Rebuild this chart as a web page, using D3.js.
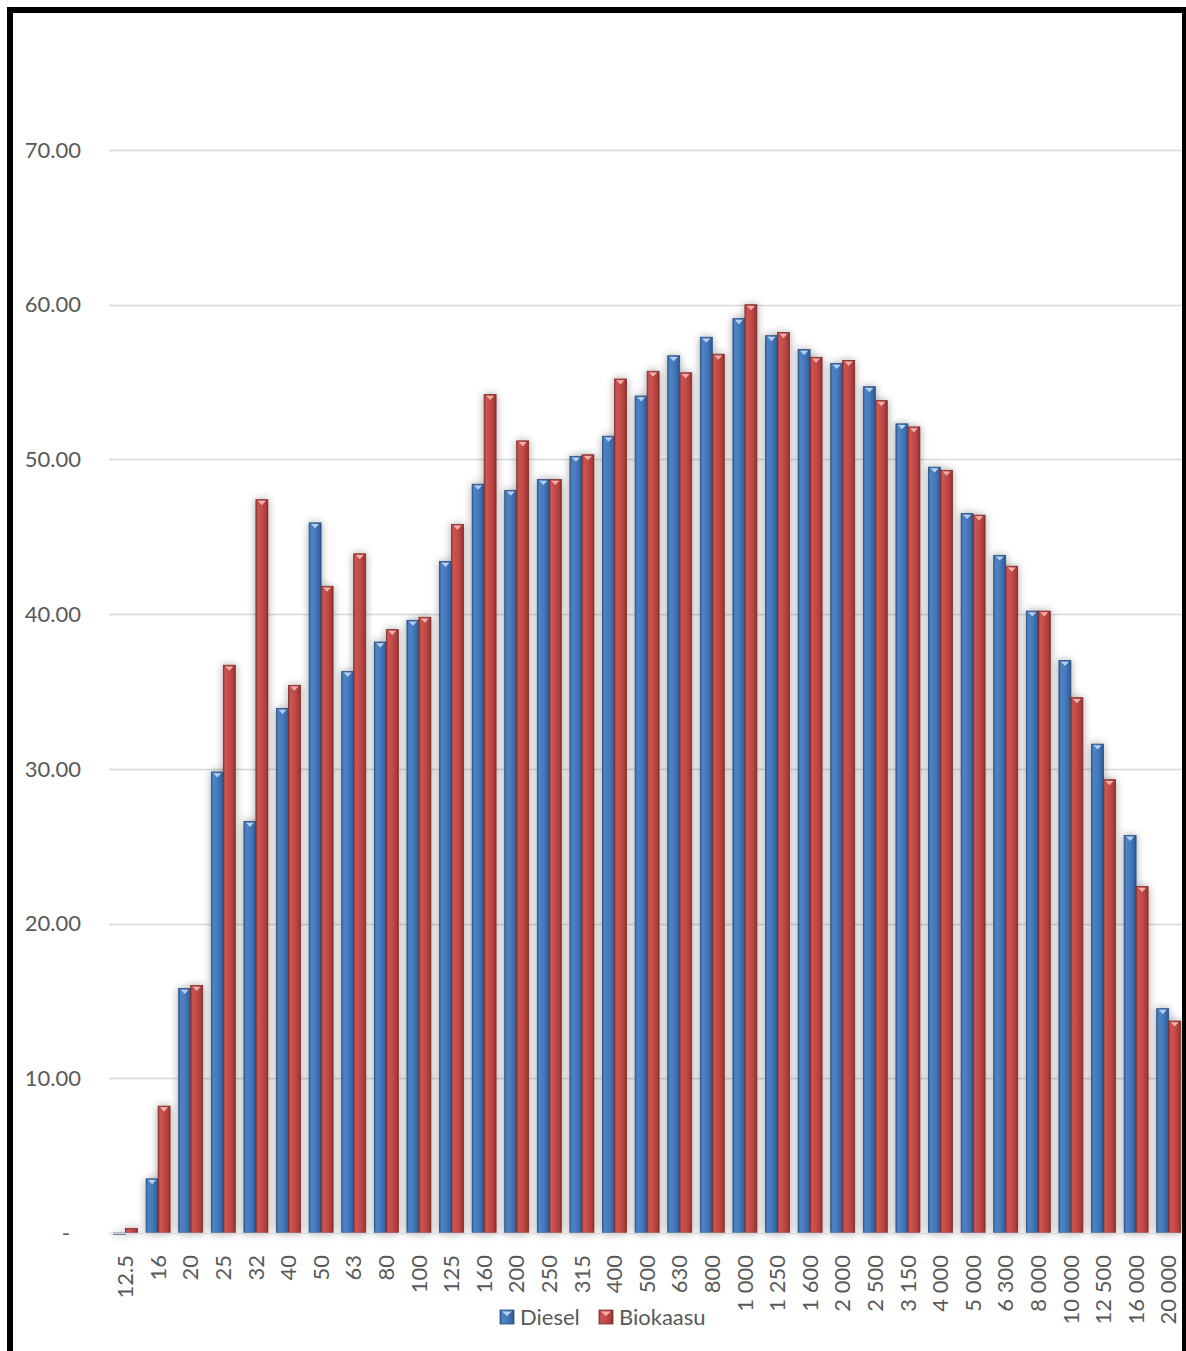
<!DOCTYPE html>
<html>
<head>
<meta charset="utf-8">
<script src="https://cdn.jsdelivr.net/npm/d3@7"></script>
<style>
  html, body { margin: 0; padding: 0; background: #fff; }
  svg { display: block; }
  text { font-family: Lato, "Open Sans", "Noto Sans", sans-serif; fill: #595959; }
</style>
</head>
<body>
<script>
// Third-octave band centre frequencies (Hz)
const categories = ["12.5", "16", "20", "25", "32", "40", "50", "63", "80", "100",
  "125", "160", "200", "250", "315", "400", "500", "630", "800", "1 000",
  "1 250", "1 600", "2 000", "2 500", "3 150", "4 000", "5 000", "6 300", "8 000",
  "10 000", "12 500", "16 000", "20 000"];

const seriesNames = ["Diesel", "Biokaasu"];

const dieselValues = [-0.1, 3.5, 15.8, 29.8, 26.6, 33.9, 45.9, 36.3, 38.2, 39.6,
  43.4, 48.4, 48.0, 48.7, 50.2, 51.5, 54.1, 56.7, 57.9, 59.1,
  58.0, 57.1, 56.2, 54.7, 52.3, 49.5, 46.5, 43.8, 40.2,
  37.0, 31.6, 25.7, 14.5];

const biokaasuValues = [0.3, 8.2, 16.0, 36.7, 47.4, 35.4, 41.8, 43.9, 39.0, 39.8,
  45.8, 54.2, 51.2, 48.7, 50.3, 55.2, 55.7, 55.6, 56.8, 60.0,
  58.2, 56.6, 56.4, 53.8, 52.1, 49.3, 46.4, 43.1, 40.2,
  34.6, 29.3, 22.4, 13.7];

const yTicks = [0, 10, 20, 30, 40, 50, 60, 70];

const W = 1186, H = 1351;
const svg = d3.select("body").append("svg").attr("width", W).attr("height", H);

const defs = svg.append("defs");

// Cylinder-like shading for each series
const palettes = {
  Diesel:   { stops: ["#33619c", "#4d84c6", "#4479bb", "#3566a5", "#2a5288"], tip: "#b8cff0", edge: "#2a4f80" },
  Biokaasu: { stops: ["#a13c39", "#cc5552", "#c04946", "#a93c39", "#852d2b"], tip: "#f0b0ae", edge: "#7e2d2b" }
};
const offsets = ["0%", "18%", "55%", "85%", "100%"];
seriesNames.forEach((s, i) => {
  const g = defs.append("linearGradient").attr("id", "grad" + i)
    .attr("x1", "0").attr("x2", "1").attr("y1", "0").attr("y2", "0");
  palettes[s].stops.forEach((c, k) => g.append("stop").attr("offset", offsets[k]).attr("stop-color", c));
});

// Soft halo around bars
const f = defs.append("filter").attr("id", "shadow")
  .attr("x", "-60%").attr("y", "-5%").attr("width", "220%").attr("height", "110%");
f.append("feGaussianBlur").attr("in", "SourceAlpha").attr("stdDeviation", 4).attr("result", "b");
f.append("feComponentTransfer").attr("in", "b").attr("result", "s")
  .append("feFuncA").attr("type", "linear").attr("slope", 0.35);
const fm = f.append("feMerge");
fm.append("feMergeNode").attr("in", "s");
fm.append("feMergeNode").attr("in", "SourceGraphic");

const x0 = d3.scaleBand().domain(categories).range([109.2, 1185]).padding(0);
const x1 = d3.scaleBand().domain(seriesNames).range([0, x0.bandwidth()]).paddingInner(0).paddingOuter(0.36);
const y = d3.scaleLinear().domain([0, 70]).range([1233, 150]);

// Gridlines
svg.append("g").selectAll("line").data(yTicks.filter(d => d > 0)).join("line")
  .attr("x1", 109).attr("x2", W)
  .attr("y1", d => Math.round(y(d)) + 0.5).attr("y2", d => Math.round(y(d)) + 0.5)
  .attr("stroke", "#d9d9d9").attr("stroke-width", 1.5);

// Y tick labels
const fmt = d => d === 0 ? "-" : d3.format(".2f")(d);
svg.append("g").selectAll("text").data(yTicks).join("text")
  .attr("x", d => d === 0 ? 70 : 81)
  .attr("y", d => y(d))
  .attr("dy", "0.35em")
  .attr("text-anchor", "end")
  .style("font-size", "22px")
  .text(fmt);

// Bars
const values = { Diesel: dieselValues, Biokaasu: biokaasuValues };
const rows = [];
categories.forEach((c, i) => seriesNames.forEach((s, k) => rows.push({ c, s, k, v: values[s][i] })));

const barG = svg.append("g").attr("filter", "url(#shadow)");
const bars = barG.selectAll("g").data(rows).join("g");
bars.append("rect")
  .attr("x", d => x0(d.c) + x1(d.s))
  .attr("width", x1.bandwidth())
  .attr("y", d => Math.min(y(d.v), y(0)))
  .attr("height", d => Math.max(Math.abs(y(d.v) - y(0)), 1))
  .attr("fill", d => `url(#grad${d.k})`)
  .attr("stroke", d => palettes[d.s].edge)
  .attr("stroke-width", 0.8);
// Bevelled cap with small highlight notch
bars.filter(d => d.v > 1).append("path")
  .attr("d", d => {
    const xl = x0(d.c) + x1(d.s), w = x1.bandwidth(), yt = y(d.v);
    return `M${xl + 2},${yt + 1.2} L${xl + w - 2},${yt + 1.2} L${xl + w / 2},${yt + 5.5} Z`;
  })
  .attr("fill", d => palettes[d.s].tip);

// Baseline
svg.append("line").attr("x1", 109).attr("x2", W)
  .attr("y1", y(0) + 0.5).attr("y2", y(0) + 0.5)
  .attr("stroke", "#d9d9d9").attr("stroke-width", 1.5);

// X labels (rotated)
svg.append("g").selectAll("text").data(categories).join("text")
  .attr("transform", d => `translate(${x0(d) + x0.bandwidth() / 2},1255) rotate(-90)`)
  .attr("text-anchor", "end")
  .attr("dy", "0.35em")
  .style("font-size", "22px")
  .text(d => d);

// Legend
const legend = svg.append("g");
const legendItems = [{ s: "Diesel", k: 0, x: 500 }, { s: "Biokaasu", k: 1, x: 599 }];
const li = legend.selectAll("g").data(legendItems).join("g")
  .attr("transform", d => `translate(${d.x},1310)`);
li.append("rect").attr("width", 14).attr("height", 14)
  .attr("fill", d => `url(#grad${d.k})`)
  .attr("stroke", d => palettes[d.s].edge).attr("stroke-width", 0.8);
li.append("path").attr("d", "M2,1.5 L12,1.5 L7,6 Z").attr("fill", d => palettes[d.s].tip);
li.append("text").attr("x", 20).attr("y", 7).attr("dy", "0.35em")
  .style("font-size", "22px").text(d => d.s);

// Frame
svg.append("rect").attr("x", 10).attr("y", 10).attr("width", 1175).attr("height", 1400)
  .attr("fill", "none").attr("stroke", "#000").attr("stroke-width", 6);
</script>
</body>
</html>
